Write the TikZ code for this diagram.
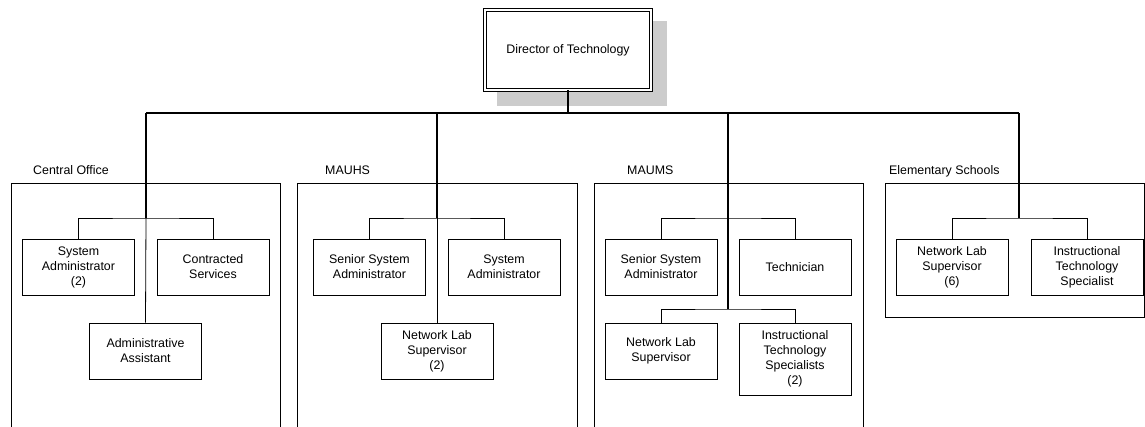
\documentclass[tikz,border=0pt]{standalone}
\usepackage{fontspec}
\setmainfont{Liberation Sans}
\definecolor{shadowgray}{RGB}{204,204,204}
\begin{document}
\begin{tikzpicture}[x=1pt,y=-1pt,
  txt/.style={font=\fontsize{12.4}{15}\selectfont},
  box/.style={txt,draw,line width=0.8pt,fill=white,minimum width=112pt,minimum height=56pt,align=center,inner sep=0pt},
  tallbox/.style={box,minimum height=72pt},
  frame/.style={draw,line width=0.8pt},
  grouplabel/.style={txt,anchor=base west,inner sep=0pt},
  main/.style={line width=1.8pt},
  thin/.style={line width=0.8pt}]
\useasboundingbox (0,0) rectangle (1145,427);
\clip (0,0) rectangle (1145,427);
\fill[white] (0,0) rectangle (1145,427);

% director
\fill[shadowgray] (497,21) rectangle (667,106);
\node[txt,draw,double,line width=1pt,double distance=2pt,fill=white,minimum width=166pt,minimum height=80pt,inner sep=0pt] (dir) at (568,50) {Director of Technology};

% group frames and labels
\draw[frame] (11,183) rectangle (280,440);
\node[grouplabel] (lco) at (33,174.5) {Central Office};
\draw[frame] (297,183) rectangle (577,440);
\node[grouplabel] (lhs) at (325,174.5) {MAUHS};
\draw[frame] (594,183) rectangle (863,440);
\node[grouplabel] (lms) at (627,174.5) {MAUMS};
\draw[frame] (885,183) rectangle (1144,317);
\node[grouplabel] (les) at (889,174.5) {Elementary Schools};

% bus coordinates
\coordinate (bco) at (146,113);
\coordinate (bhs) at (437,113);
\coordinate (bms) at (728,113);
\coordinate (bes) at (1019,113);
\coordinate (jco) at (146,218);
\coordinate (jhs) at (437,218);
\coordinate (jms) at (728,218);
\coordinate (jms2) at (728,309);
\coordinate (jes) at (1019,218);

% Central Office
\node[box] (sa2) at (78.5,267) {System\\Administrator\\(2)};
\node[box] (cs) at (213,267) {Contracted\\Services};
\node[box] (aa) at (145.5,351) {Administrative\\Assistant};
% MAUHS
\node[box] (hssa) at (369.5,267) {Senior System\\Administrator};
\node[box] (hsa) at (504,267) {System\\Administrator};
\node[box] (hnls) at (437,351) {Network Lab\\Supervisor\\(2)};
% MAUMS
\node[box] (mssa) at (661,267) {Senior System\\Administrator};
\node[box] (mtech) at (795,267) {Technician};
\node[box] (mnls) at (661,351) {Network Lab\\Supervisor};
\node[tallbox] (mits) at (795,359) {Instructional\\Technology\\Specialists\\(2)};
% Elementary
\node[box] (enls) at (952,267) {Network Lab\\Supervisor\\(6)};
\node[box] (eits) at (1087,267) {Instructional\\Technology\\Specialist};

% main connectors
\draw[main] (dir.south) -- (dir.south |- bco);
\draw[main] (bco) -- (bes);
\draw[main] (bco) -- (jco);
\draw[thin] (jco) -- (aa.north);
\draw[main] (bhs) -- (jhs);
\draw[thin] (jhs) -- (hnls.north);
\draw[main] (bms) -- (jms2);
\draw[main] (bes) -- (jes);

% branches
\draw[thin] (sa2.north) |- (jco) -| (cs.north);
\draw[thin] (hssa.north) |- (jhs) -| (hsa.north);
\draw[thin] (mssa.north) |- (jms) -| (mtech.north);
\draw[thin] (mnls.north) |- (jms2) -| (mits.north);
\draw[thin] (enls.north) |- (jes) -| (eits.north);
\end{tikzpicture}
\end{document}
